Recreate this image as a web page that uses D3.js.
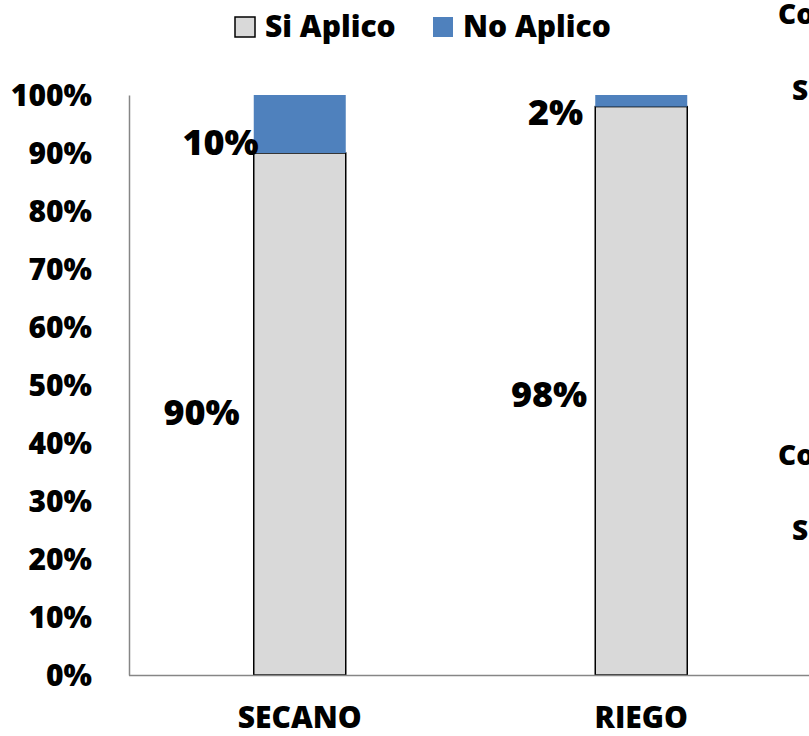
<!DOCTYPE html>
<html>
<head>
<meta charset="utf-8">
<script src="https://cdn.jsdelivr.net/npm/d3@7"></script>
<style>
  html, body { margin: 0; padding: 0; background: #fff; }
  svg { display: block; font-family: "Open Sans", "DejaVu Sans", sans-serif; font-weight: 760; }
</style>
</head>
<body>
<svg id="chart" width="809" height="736"></svg>
<script>
// ---- data ----
const categories = ["SECANO", "RIEGO"];
const siAplico = [0.90, 0.98];
const noAplico = [0.10, 0.02];
const seriesNames = ["Si Aplico", "No Aplico"];
const yTicks = [0, 0.1, 0.2, 0.3, 0.4, 0.5, 0.6, 0.7, 0.8, 0.9, 1.0];
const sideTexts = ["Co", "S", "Co", "S"];

// ---- layout ----
const svg = d3.select("#chart");
const plotLeft = 129, plotRight = 812, plotTop = 95, plotBottom = 675;
const colors = { "Si Aplico": "#d9d9d9", "No Aplico": "#4f81bd" };
const FW = 760;

const x = d3.scaleBand().domain(categories).range([plotLeft, plotRight])
  .paddingInner(0.7306).paddingOuter(0.3653);
const y = d3.scaleLinear().domain([0, 1]).range([plotBottom, plotTop]);

const rows = categories.map((c, i) => ({ cat: c, "Si Aplico": siAplico[i], "No Aplico": noAplico[i] }));
const stack = d3.stack().keys(seriesNames)(rows);

// y axis
const yAxis = d3.axisLeft(y).tickValues(yTicks).tickFormat(d3.format(".0%")).tickSize(0).tickPadding(0);
const gy = svg.append("g").attr("transform", `translate(${plotLeft},0)`).call(yAxis);
gy.select(".domain").attr("stroke", "#868686").attr("stroke-width", 1.5);
gy.selectAll("text").attr("x", 92 - plotLeft).attr("text-anchor", "end")
  .attr("font-size", 30).attr("font-weight", FW).attr("fill", "#000")
  .attr("font-family", "'Open Sans', sans-serif").attr("dy", "0.36em");

// bars
stack.forEach(layer => {
  const key = layer.key;
  svg.append("g").selectAll("rect").data(layer).join("rect")
    .attr("x", d => x(d.data.cat))
    .attr("width", x.bandwidth())
    .attr("y", d => y(d[1]))
    .attr("height", d => y(d[0]) - y(d[1]))
    .attr("fill", colors[key])
    .attr("stroke", key === "Si Aplico" ? "#000" : "none")
    .attr("stroke-width", 1.5);
});

// x axis baseline
const xAxis = d3.axisBottom(x).tickSize(0).tickPadding(0);
const gx = svg.append("g").attr("transform", `translate(0,${plotBottom})`).call(xAxis);
gx.select(".domain").attr("d", `M${plotLeft},0.5H809`).attr("stroke", "#868686").attr("stroke-width", 1.5);
gx.selectAll("text").attr("y", 53).attr("dy", 0)
  .attr("font-size", 30).attr("font-weight", FW).attr("fill", "#000")
  .attr("font-family", "'Open Sans', sans-serif");

// data labels (manually offset like the original)
const labelOffsets = {
  "Si Aplico": [{ dx: -14, dy: -2 }, { dx: -8, dy: 3 }],
  "No Aplico": [{ dx: 5, dy: 18 }, { dx: -12, dy: 11 }]
};
stack.forEach(layer => {
  svg.append("g").selectAll("text").data(layer).join("text")
    .attr("x", (d, i) => x(d.data.cat) + labelOffsets[layer.key][i].dx)
    .attr("y", (d, i) => y((d[0] + d[1]) / 2) + labelOffsets[layer.key][i].dy)
    .attr("dy", "0.36em")
    .attr("text-anchor", "end")
    .attr("font-size", 36)
    .attr("font-weight", FW)
    .attr("fill", "#000")
    .text(d => d3.format(".0%")(d[1] - d[0]));
});

// legend
const legendItems = [
  { name: seriesNames[0], box: 235, text: 265 },
  { name: seriesNames[1], box: 433, text: 463 }
];
const lg = svg.append("g");
legendItems.forEach(it => {
  lg.append("rect").attr("x", it.box).attr("y", 17).attr("width", 20).attr("height", 20)
    .attr("fill", colors[it.name])
    .attr("stroke", it.name === "Si Aplico" ? "#000" : "none").attr("stroke-width", 1.5);
  lg.append("text").attr("x", it.text).attr("y", 37).attr("font-size", 30)
    .attr("font-weight", FW).attr("fill", "#000").text(it.name);
});

// clipped text at right edge
const sidePos = [[778, 24], [792, 100], [778, 465], [792, 540]];
svg.append("g").selectAll("text").data(sideTexts).join("text")
  .attr("x", (d, i) => sidePos[i][0]).attr("y", (d, i) => sidePos[i][1])
  .attr("font-size", 28).attr("font-weight", FW).attr("fill", "#000").text(d => d);
</script>
</body>
</html>
